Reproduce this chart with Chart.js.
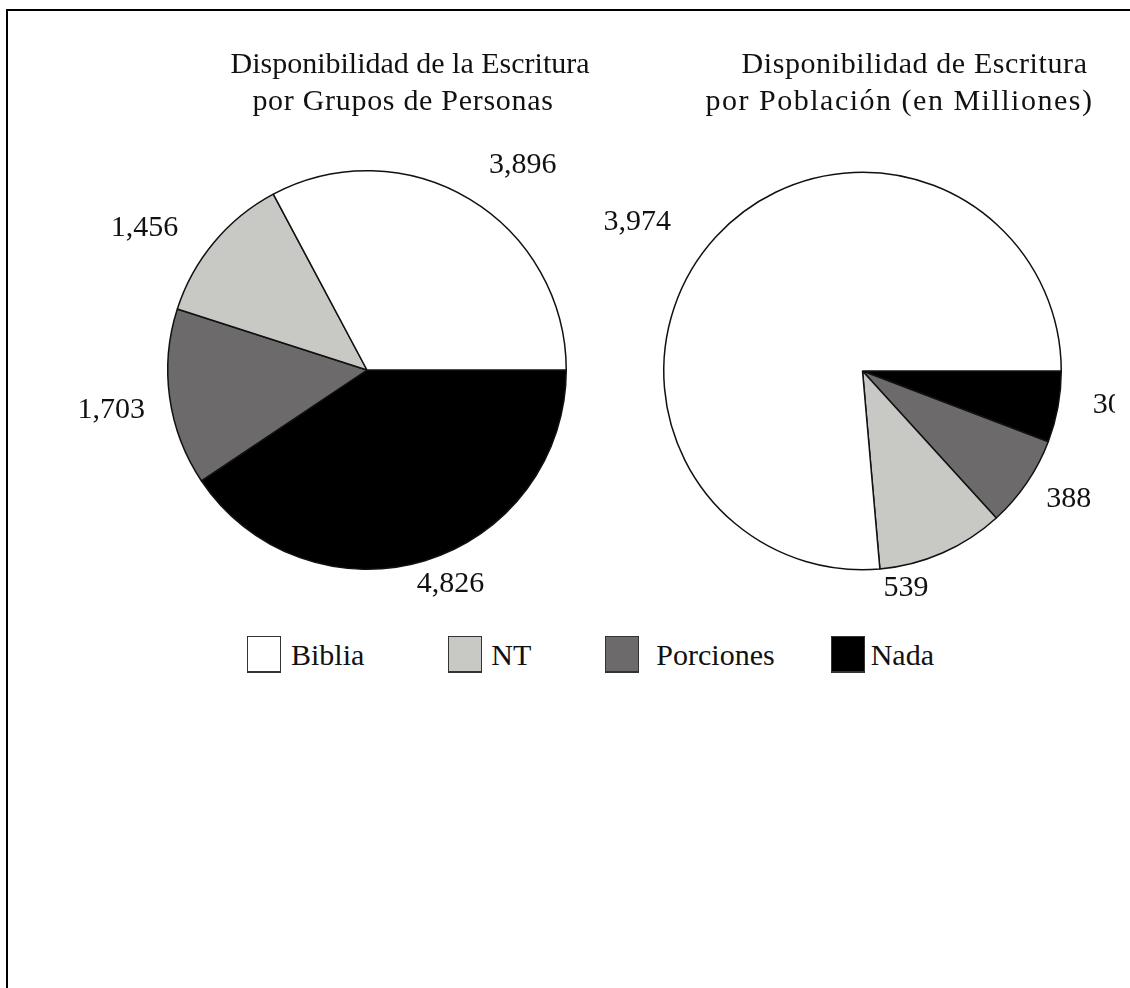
<!DOCTYPE html>
<html>
<head>
<meta charset="utf-8">
<script src="https://cdn.jsdelivr.net/npm/chart.js@4.4.1/dist/chart.umd.min.js"></script>
<style>
  html, body { margin: 0; padding: 0; background: #fff; width: 1130px; height: 988px; overflow: hidden; }
  #frame { position: absolute; left: 6px; top: 9px; width: 1200px; height: 1100px;
           border-top: 2.5px solid #000; border-left: 2.5px solid #000; }
  #c1 { position: absolute; left: 0; top: 0; }
  #c2 { position: absolute; left: 590px; top: 0; }
  #legend { position: absolute; top: 636px; left: 247px; display: flex; align-items: center;
            font-family: 'Liberation Serif', 'Times New Roman', serif; font-size: 30px; color: #111; }
  .item { display: flex; align-items: center; }
  .box { width: 34px; height: 37px; box-sizing: border-box; border: 1.5px solid #333; border-bottom-width: 2.5px; }
  .item:nth-child(1) { margin-right: 84px; }
  .item:nth-child(2) { margin-right: 74px; }
  .item:nth-child(3) { margin-right: 56px; }
  .item:nth-child(1) .lab { margin-left: 10px; }
  .item:nth-child(2) .lab { margin-left: 9px; }
  .item:nth-child(3) .lab { margin-left: 17px; }
  .item:nth-child(4) .lab { margin-left: 6px; }
</style>
</head>
<body>
<div id="frame"></div>
<canvas id="c1" width="734" height="620"></canvas>
<canvas id="c2" width="525" height="620"></canvas>
<div id="legend"></div>
<script>
// ---- data ----
const categories = ['Biblia', 'NT', 'Porciones', 'Nada'];
const grupos = [3896, 1456, 1703, 4826];        // Grupos de Personas
const poblacion = [3974, 539, 388, 301];        // Población (en Millones)
const titleGrupos = ['Disponibilidad de la Escritura', 'por Grupos de Personas'];
const titlePoblacion = ['Disponibilidad de Escritura', 'por Población (en Milliones)'];
const colors = ['#ffffff', '#c8c9c5', '#6c6a6b', '#000000'];

const FONT = "'Liberation Serif', 'Times New Roman', serif";

// the reference runs counter-clockwise from 3 o'clock: reverse order for Chart.js (clockwise)
const rev = a => a.slice().reverse();

const outsideLabels = {
  id: 'outsideLabels',
  afterDraw(chart, args, opts) {
    const ctx = chart.ctx;
    const meta = chart.getDatasetMeta(0);
    const data = chart.data.datasets[0].data;
    const nudge = rev(opts.nudge);
    ctx.save();
    ctx.font = '30px ' + FONT;
    ctx.fillStyle = '#111';
    ctx.textAlign = 'center';
    ctx.textBaseline = 'middle';
    meta.data.forEach((arc, i) => {
      const p = arc.getProps(['x', 'y', 'startAngle', 'endAngle', 'outerRadius'], true);
      const mid = (p.startAngle + p.endAngle) / 2;
      const ux = Math.cos(mid), uy = Math.sin(mid);
      const txt = data[i].toLocaleString('en-US');
      const w = ctx.measureText(txt).width;
      const a = w / 2, b = 11;
      const d = p.outerRadius + opts.gap + a * Math.abs(ux) + b * Math.abs(uy);
      ctx.fillText(txt, p.x + d * ux + nudge[i][0], p.y + d * uy + 2 + nudge[i][1]);
    });
    // titles (two lines)
    const ca = chart.chartArea;
    const cx = (ca.left + ca.right) / 2;
    ctx.textBaseline = 'alphabetic';
    opts.title.forEach((line, k) => {
      ctx.letterSpacing = opts.titleSpacing[k] + 'px';
      ctx.fillText(line, cx + opts.titleShift[k], 73 + k * 37);
    });
    ctx.restore();
  }
};

function makePie(id, values, title, padding, nudge, titleShift, titleSpacing) {
  return new Chart(document.getElementById(id), {
    type: 'pie',
    data: {
      labels: rev(categories),
      datasets: [{
        data: rev(values),
        backgroundColor: rev(colors),
        borderColor: '#111',
        borderWidth: 1.5
      }]
    },
    options: {
      responsive: false,
      animation: false,
      rotation: 90,
      layout: { padding },
      plugins: {
        legend: { display: false },
        tooltip: { enabled: false },
        outsideLabels: { gap: 20, title, titleShift, titleSpacing, nudge }
      }
    },
    plugins: [outsideLabels]
  });
}

makePie('c1', grupos, titleGrupos, { left: 167, right: 167, top: 170, bottom: 50 },
        [[29, 4], [-29, 18], [-4, 3], [14, -17]], [43, 36], [0, 0.7]);
makePie('c2', poblacion, titlePoblacion, { left: 73, right: 53, top: 171, bottom: 49 },
        [[-40, 19], [-52, -3], [5, -11], [14, -12]], [52, 37], [0.6, 1.5]);

// legend (shared)
const lg = document.getElementById('legend');
categories.forEach((c, i) => {
  const it = document.createElement('div'); it.className = 'item';
  const bx = document.createElement('div'); bx.className = 'box'; bx.style.background = colors[i];
  const lb = document.createElement('span'); lb.className = 'lab'; lb.textContent = c;
  it.appendChild(bx); it.appendChild(lb); lg.appendChild(it);
});
</script>
</body>
</html>
